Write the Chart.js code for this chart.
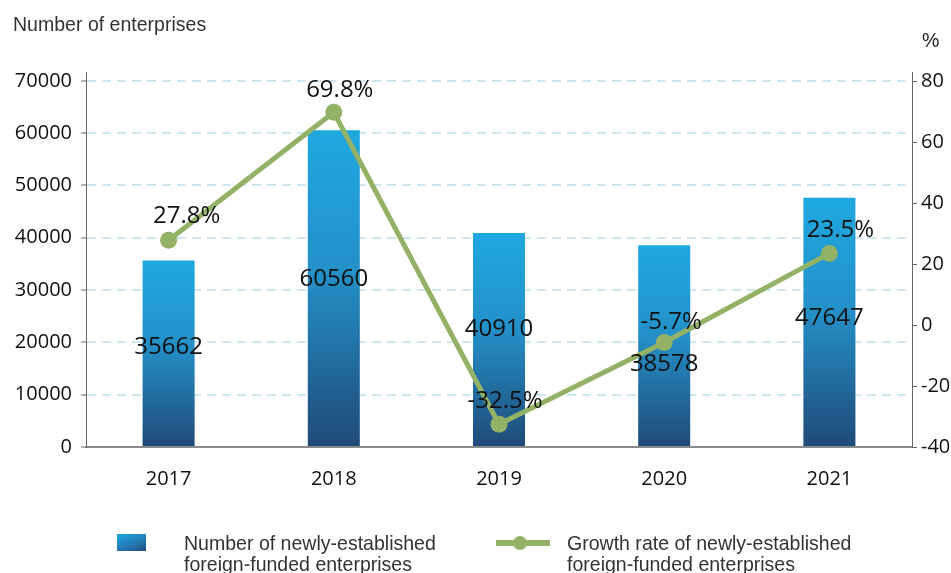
<!DOCTYPE html>
<html>
<head>
<meta charset="utf-8">
<script src="https://cdn.jsdelivr.net/npm/chart.js@4"></script>
<style>
  html, body { margin: 0; padding: 0; background: #fff; }
  #wrap { position: relative; width: 951px; height: 573px; overflow: hidden; }
  #c { position: absolute; left: 0; top: 0; }
  .txt { position: absolute; font-family: "Liberation Sans", Arial, sans-serif; color: #333; white-space: nowrap; transform: scaleX(0.93); transform-origin: left top; }
  #ltitle { left: 13px; top: 12px; font-size: 21px; }
  #rtitle { left: 922px; top: 28px; font-size: 21px; color: #222; }
  .leg { position: absolute; font-family: "Liberation Sans", Arial, sans-serif; font-size: 21px; line-height: 21px; color: #333; white-space: nowrap; transform: scaleX(0.93); transform-origin: left top; }
  #sw1 { position: absolute; left: 117px; top: 534px; width: 29px; height: 17px; background: linear-gradient(160deg, #1fa8e0 0%, #2478b0 60%, #1f4a78 100%); }
  #sw2l { position: absolute; left: 496px; top: 540px; width: 54px; height: 6px; background: #93b266; }
  #sw2d { position: absolute; left: 513px; top: 536px; width: 14px; height: 14px; border-radius: 50%; background: #93b266; }
</style>
</head>
<body>
<div id="wrap">
  <canvas id="c" width="951" height="573"></canvas>
  <div id="ltitle" class="txt">Number of enterprises</div>
  <div id="rtitle" class="txt">%</div>
  <div id="sw1"></div>
  <div class="leg" style="left:184px; top:532px;">Number of newly-established<br>foreign-funded enterprises</div>
  <div id="sw2l"></div><div id="sw2d"></div>
  <div class="leg" style="left:567px; top:532px;">Growth rate of newly-established<br>foreign-funded enterprises</div>
</div>
<script>
const years = ['2017', '2018', '2019', '2020', '2021'];
const enterprises = [35662, 60560, 40910, 38578, 47647];
const growthRate = [27.8, 69.8, -32.5, -5.7, 23.5];
const leftTicks = [0, 10000, 20000, 30000, 40000, 50000, 60000, 70000];
const rightTicks = [-40, -20, 0, 20, 40, 60, 80];

// label nudges (pixels) — layout only
const barLabelDy = [-6, -9, -10, 19, -4];
const pctLabelDx = [18, 6, 6, 7, 11];
const pctLabelDy = [-24, -22, -23, -20, -23];

const GREEN = '#93b266';
const FONT = '"Open Sans", "Noto Sans", sans-serif';

const labelPlugin = {
  id: 'valueLabels',
  afterDatasetsDraw(chart) {
    const ctx = chart.ctx;
    ctx.save();
    ctx.fillStyle = '#111';
    ctx.font = '24px ' + FONT;
    ctx.textAlign = 'center';
    ctx.textBaseline = 'middle';
    const barMeta = chart.getDatasetMeta(1);
    barMeta.data.forEach((el, i) => {
      const midY = (el.y + el.base) / 2;
      ctx.fillText(String(enterprises[i]), el.x, midY + barLabelDy[i]);
    });
    const lineMeta = chart.getDatasetMeta(0);
    lineMeta.data.forEach((el, i) => {
      ctx.fillText(growthRate[i].toFixed(1) + '%', el.x + pctLabelDx[i], el.y + pctLabelDy[i]);
    });
    ctx.restore();
  }
};

function barGradient(context) {
  const chart = context.chart;
  if (!chart.chartArea || context.type !== 'data') return '#1f8cc8';
  const ys = chart.scales.y;
  const top = ys.getPixelForValue(enterprises[context.dataIndex]);
  const bottom = ys.getPixelForValue(0);
  const g = chart.ctx.createLinearGradient(0, top, 0, bottom);
  g.addColorStop(0, '#1fa8e0');
  g.addColorStop(0.45, '#2490c8');
  g.addColorStop(1, '#1f4a78');
  return g;
}

new Chart(document.getElementById('c'), {
  data: {
    labels: years,
    datasets: [
      {
        type: 'line',
        label: 'Growth rate of newly-established foreign-funded enterprises',
        data: growthRate,
        yAxisID: 'y1',
        borderColor: GREEN,
        backgroundColor: GREEN,
        borderWidth: 5,
        pointRadius: 8.5,
        pointHoverRadius: 8.5,
        pointBackgroundColor: GREEN,
        pointBorderWidth: 0,
        tension: 0,
        order: 0
      },
      {
        type: 'bar',
        label: 'Number of newly-established foreign-funded enterprises',
        data: enterprises,
        yAxisID: 'y',
        backgroundColor: barGradient,
        barPercentage: 0.63,
        categoryPercentage: 0.5,
        order: 1
      }
    ]
  },
  options: {
    responsive: false,
    animation: false,
    devicePixelRatio: 1,
    layout: { padding: { left: 0, right: 0, top: 72, bottom: 0 } },
    plugins: { legend: { display: false }, tooltip: { enabled: false } },
    scales: {
      x: {
        offset: true,
        grid: { display: false, drawTicks: false },
        border: { display: true, color: '#8a8a8a', width: 2 },
        ticks: { color: '#111', font: { family: FONT, size: 20 }, padding: 20 },
        afterFit(s) { s.height = 126; }
      },
      y: {
        position: 'left',
        min: 0,
        max: 71700,
        afterBuildTicks(s) { s.ticks = leftTicks.map(v => ({ value: v })); },
        ticks: { color: '#111', font: { family: FONT, size: 20 }, padding: 9, callback: (v) => String(v) },
        grid: {
          color: (c) => c.tick && c.tick.value === 0 ? 'rgba(0,0,0,0)' : '#cde7f0',
          lineWidth: 2,
          tickColor: '#666',
          tickLength: 5,
          tickWidth: 1,
          drawTicks: true
        },
        border: { display: true, color: '#666', width: 1, dash: [9, 6] },
        afterFit(s) { s.width = 86; }
      },
      y1: {
        position: 'right',
        min: -40,
        max: 83,
        afterBuildTicks(s) { s.ticks = rightTicks.map(v => ({ value: v })); },
        ticks: { color: '#111', font: { family: FONT, size: 20 }, padding: 4, callback: (v) => String(v) },
        grid: { drawOnChartArea: false, tickColor: '#666', tickLength: 5, tickWidth: 1 },
        border: { display: true, color: '#666', width: 1 },
        afterFit(s) { s.width = 39; }
      }
    }
  },
  plugins: [labelPlugin]
});
</script>
</body>
</html>
